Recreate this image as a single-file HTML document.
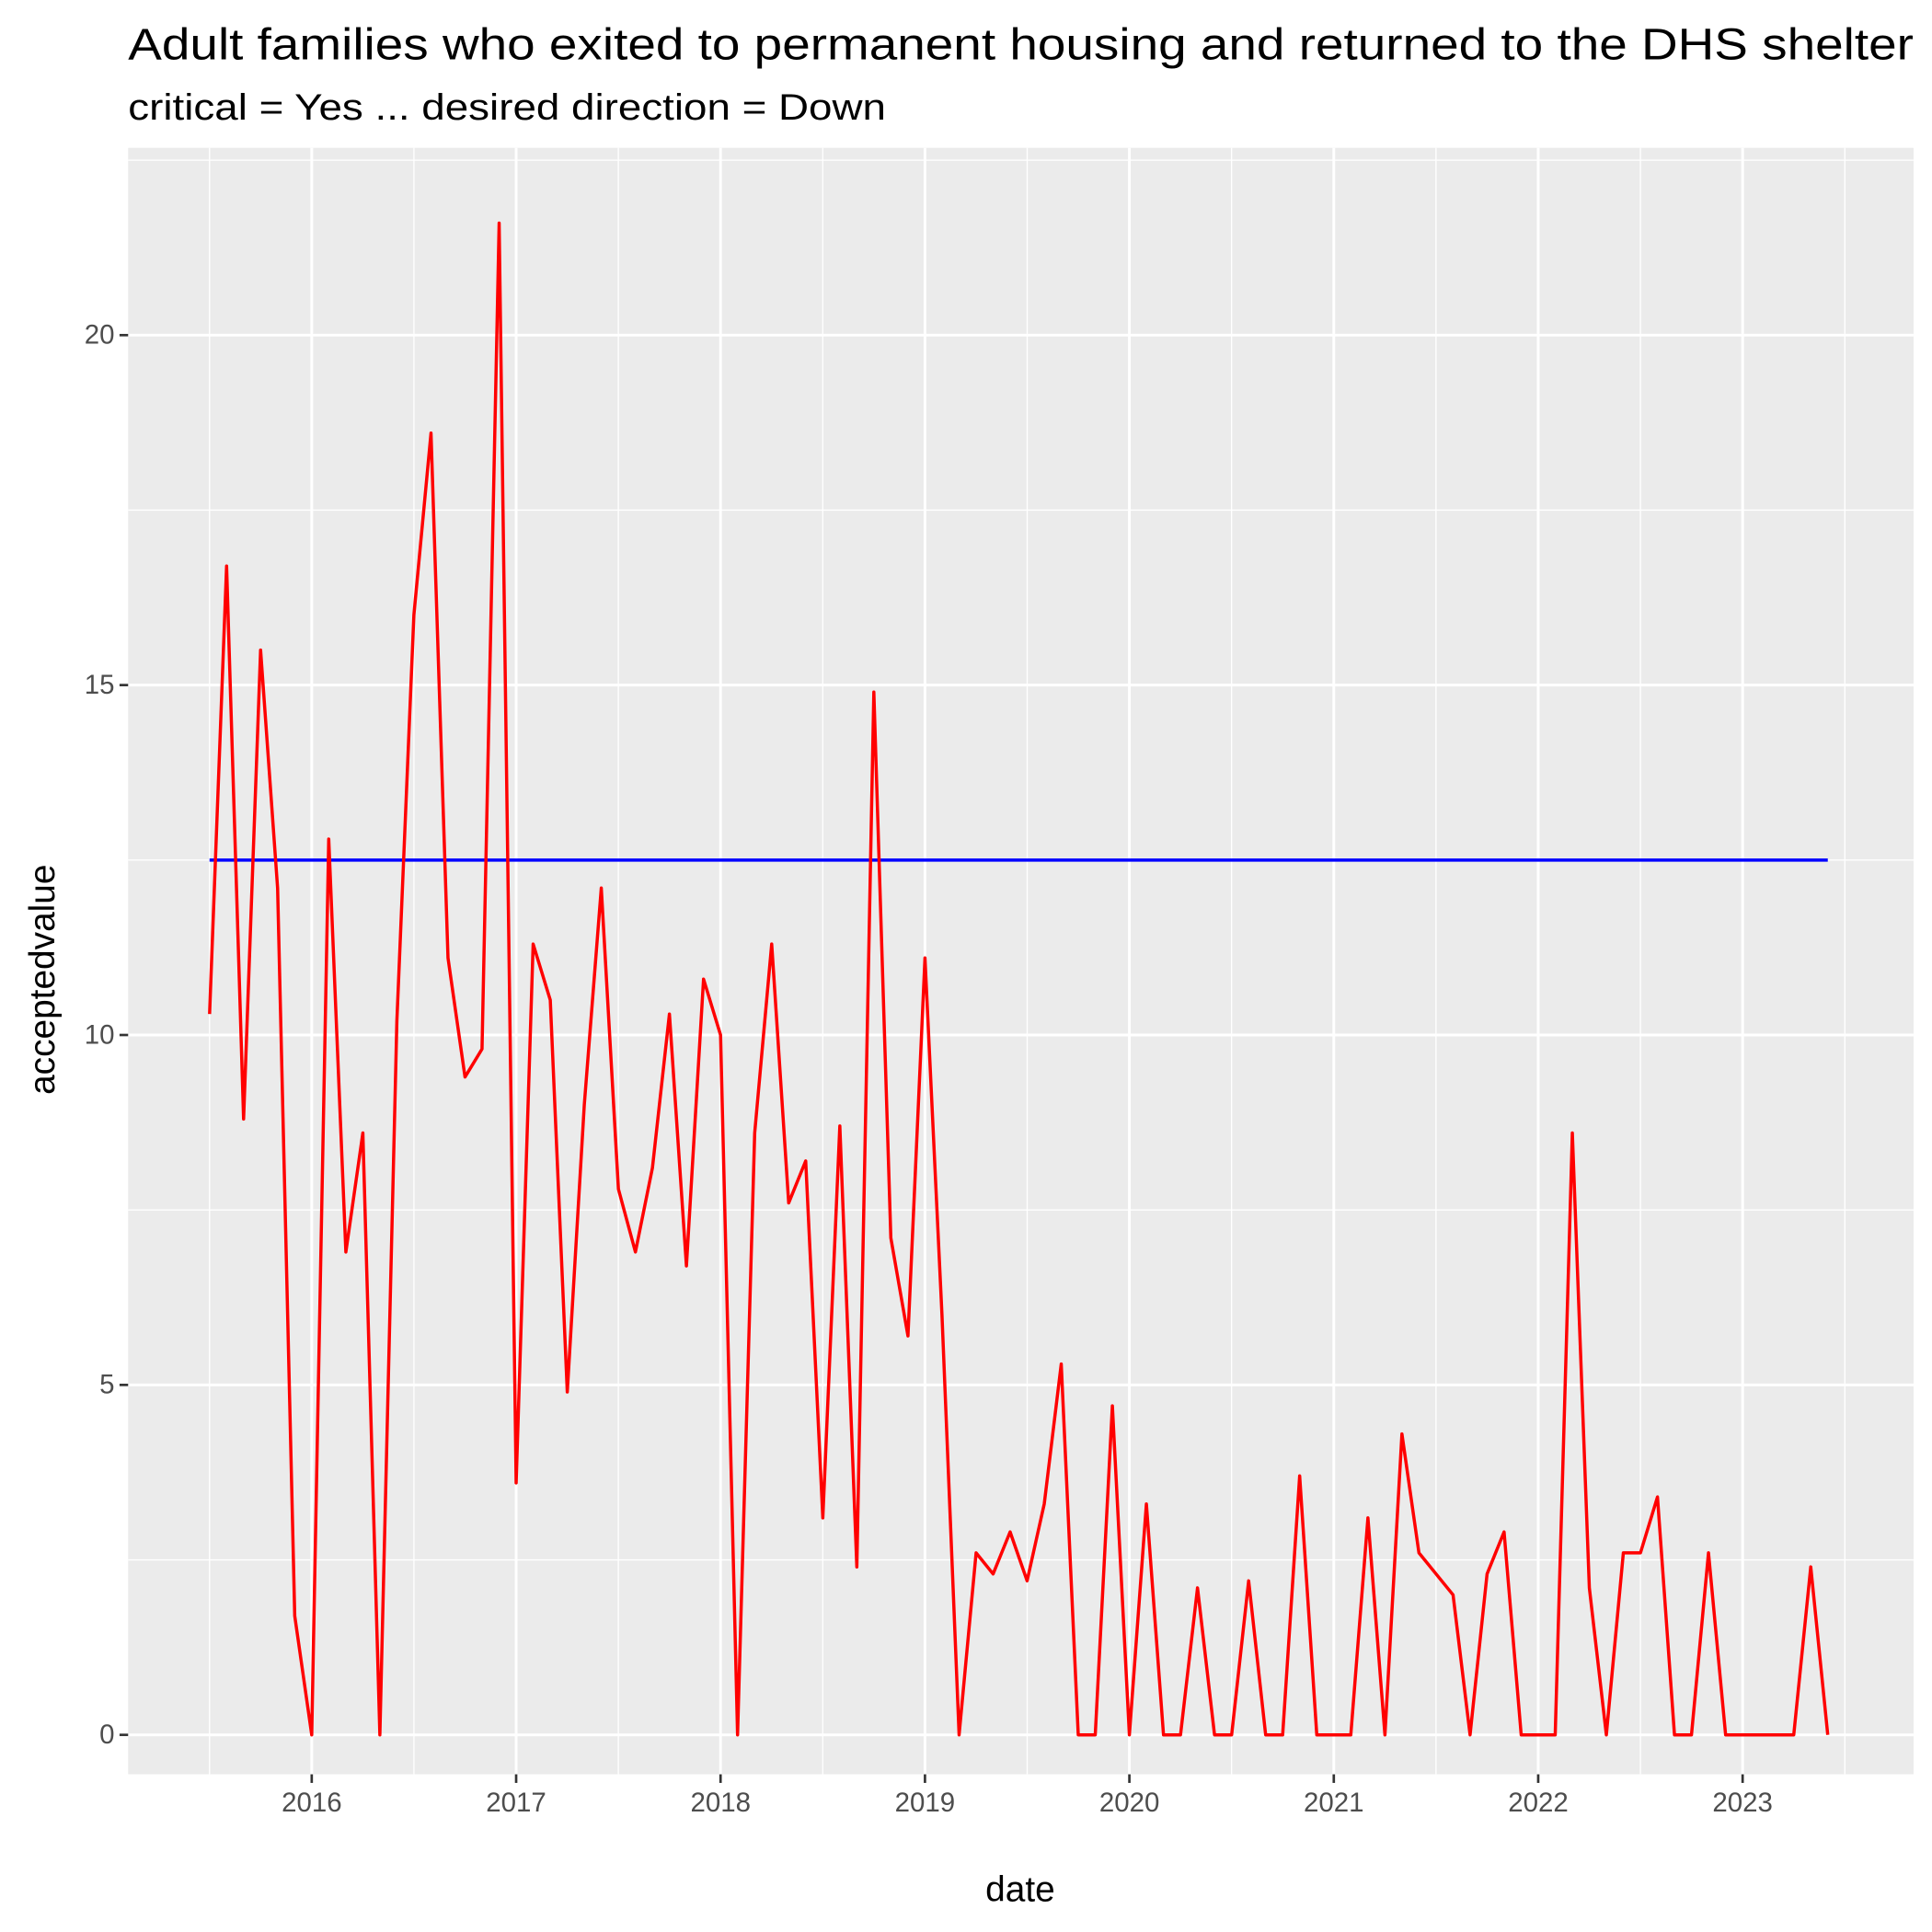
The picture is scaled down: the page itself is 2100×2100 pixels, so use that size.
<!DOCTYPE html>
<html><head><meta charset="utf-8"><style>html,body{margin:0;padding:0;background:#fff}svg{display:block}</style></head>
<body>
<svg id="chart" width="2100" height="2100" viewBox="0 0 1568 1568" xmlns="http://www.w3.org/2000/svg" font-family="Liberation Sans, sans-serif">
<text x="104" y="48" font-size="36" textLength="1449" lengthAdjust="spacingAndGlyphs" fill="#000">Adult families who exited to permanent housing and returned to the DHS shelter</text>
<text x="104" y="97" font-size="30" textLength="615" lengthAdjust="spacingAndGlyphs" fill="#000">critical = Yes ... desired direction = Down</text>
<rect x="104" y="120" width="1449" height="1320" fill="#ebebeb"/>
<g id="grid"></g>
<g id="axes"></g>
<g id="series"></g>
<text x="828" y="1543" font-size="29" text-anchor="middle">date</text>
<text transform="translate(44,795) rotate(-90)" font-size="29" text-anchor="middle">acceptedvalue</text>
</svg>
<script>
const startYear = 2015, startMonth = 7;
const values = [10.3,16.7,8.8,15.5,12.1,1.7,0,12.8,6.9,8.6,0,10.2,16.0,18.6,11.1,9.4,9.8,21.6,
3.6,11.3,10.5,4.9,9.0,12.1,7.8,6.9,8.1,10.3,6.7,10.8,
10.0,0,8.6,11.3,7.6,8.2,3.1,8.7,2.4,14.9,7.1,5.7,
11.1,6.0,0,2.6,2.3,2.9,2.2,3.3,5.3,0,0,4.7,
0,3.3,0,0,2.1,0,0,2.2,0,0,3.7,0,
0,0,3.1,0,4.3,2.6,2.3,2.0,0,2.3,2.9,0,
0,0,8.6,2.1,0,2.6,2.6,3.4,0,0,2.6,0,
0,0,0,0,2.4,0];
const targetValue = [12.5];
const yTicks = [0,5,10,15,20];
const xTickYears = [2016,2017,2018,2019,2020,2021,2022,2023];
const NS="http://www.w3.org/2000/svg";
function xs(t){return 253+(t-2016)*165.9;}
function ys(v){return 1408-v*56.8;}
function monthT(i){const m=startMonth-1+i;return startYear+m/12;}
function el(tag,attrs,parent){const e=document.createElementNS(NS,tag);for(const k in attrs)e.setAttribute(k,attrs[k]);parent.appendChild(e);return e;}
const grid=document.getElementById('grid'),axes=document.getElementById('axes'),series=document.getElementById('series');
for(let v=-2.5;v<=22.5;v+=5){const g=el('line',{x1:104,x2:1553,y1:ys(v),y2:ys(v),stroke:'#fff','stroke-width':1},grid);

}
for(let y=2015;y<=2023;y++){const g=el('line',{x1:xs(y+0.5),x2:xs(y+0.5),y1:120,y2:1440,stroke:'#fff','stroke-width':1},grid);

}
yTicks.forEach(v=>{const g=el('line',{x1:104,x2:1553,y1:ys(v),y2:ys(v),stroke:'#fff','stroke-width':2.2},grid);


const tk=el('line',{x1:97,x2:104,y1:ys(v),y2:ys(v),stroke:'#333','stroke-width':2},axes);


const t=el('text',{x:93,y:ys(v)+7,'font-size':22,'text-anchor':'end',fill:'#4d4d4d'},axes);t.textContent=v;

});
xTickYears.forEach(y=>{const g=el('line',{x1:xs(y),x2:xs(y),y1:120,y2:1440,stroke:'#fff','stroke-width':2.2},grid);


const tk=el('line',{x1:xs(y),x2:xs(y),y1:1440,y2:1447,stroke:'#333','stroke-width':2},axes);


const t=el('text',{x:xs(y),y:1470,'font-size':22,'text-anchor':'middle',fill:'#4d4d4d'},axes);t.textContent=y;

});
const tEnd=monthT(values.length-1);
const tl=el('line',{x1:xs(monthT(0)),x2:xs(tEnd),y1:ys(targetValue[0]),y2:ys(targetValue[0]),stroke:'#0000ff','stroke-width':2.6},series);


const pts=values.map((v,i)=>xs(monthT(i)).toFixed(1)+','+ys(v).toFixed(1)).join(' ');
const pl=el('polyline',{points:pts,fill:'none',stroke:'#ff0000','stroke-width':2.6,'stroke-linejoin':'round'},series);


</script>
</body></html>
